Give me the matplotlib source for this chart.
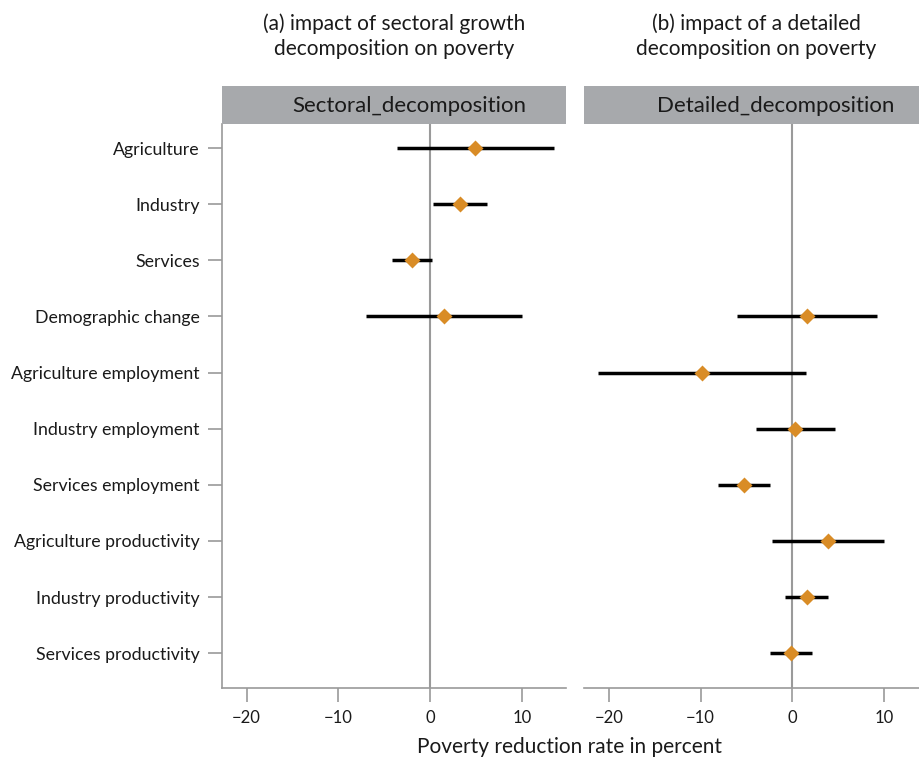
import numpy as np
import matplotlib.pyplot as plt

plt.rcParams['font.family'] = ['Lato', 'DejaVu Sans']

labels = ["Agriculture", "Industry", "Services", "Demographic change",
          "Agriculture employment", "Industry employment", "Services employment",
          "Agriculture productivity", "Industry productivity", "Services productivity"]

# panel (a): sectoral decomposition
sect_labels = ["Agriculture", "Industry", "Services", "Demographic change"]
sect_est = [4.9, 3.3, -2.0, 1.57]
sect_lo = [-3.6, 0.36, -4.2, -7.0]
sect_hi = [13.5, 6.2, 0.25, 10.05]

# panel (b): detailed decomposition
det_labels = ["Demographic change", "Agriculture employment", "Industry employment",
              "Services employment", "Agriculture productivity", "Industry productivity",
              "Services productivity"]
det_est = [1.63, -9.85, 0.3, -5.3, 3.88, 1.56, -0.1]
det_lo = [-5.98, -21.15, -3.95, -8.15, -2.17, -0.76, -2.39]
det_hi = [9.28, 1.46, 4.64, -2.42, 10.04, 3.88, 2.17]

titles = ["(a) impact of sectoral growth\ndecomposition on poverty",
          "(b) impact of a detailed\ndecomposition on poverty"]
strips = ["Sectoral_decomposition", "Detailed_decomposition"]

orange = '#D98C26'
axgray = '#9A9A9A'
stripgray = '#A7A9AC'
txt = '#1a1a1a'

fig = plt.figure(figsize=(9.2, 7.58), dpi=100)

panels = [
    (222 / 920, 344 / 920, (-22.69, 14.82), sect_labels, sect_est, sect_lo, sect_hi),
    (584 / 920, 336 / 920, (-22.71, 13.92), det_labels, det_est, det_lo, det_hi),
]
bottom = 1 - 688 / 758
height = (688 - 124) / 758
strip_h = (124 - 86) / 758
title_x = [394 / 920, 756 / 920]
strip_x = [0.545, 0.57]

for i, (x0, w, xlim, labs, est, lo, hi) in enumerate(panels):
    ax = fig.add_axes([x0, bottom, w, height])
    y = [labels.index(l) for l in labs]
    ax.axvline(0, color=axgray, lw=1.5, zorder=1)
    ax.hlines(y, lo, hi, color='black', lw=2.5, zorder=2)
    ax.plot(est, y, 'D', color=orange, ms=8.5, mec='none', zorder=3)
    ax.set_xlim(*xlim)
    ax.set_ylim(9.62, -0.43)
    ax.set_xticks([-20, -10, 0, 10])
    ax.set_yticks(range(len(labels)))
    for s in ['top', 'right']:
        ax.spines[s].set_visible(False)
    ax.spines['bottom'].set_color(axgray)
    ax.spines['bottom'].set_linewidth(1.2)
    ax.tick_params(axis='x', length=10, width=1.2, color=axgray, labelsize=12,
                   labelcolor=txt, pad=6)
    if i == 0:
        ax.set_yticklabels(labels)
        ax.spines['left'].set_color(axgray)
        ax.spines['left'].set_linewidth(1.2)
        ax.tick_params(axis='y', length=10, width=1.2, color=axgray, labelsize=12.8,
                       labelcolor=txt, pad=6)
    else:
        ax.spines['left'].set_visible(False)
        ax.tick_params(axis='y', left=False, labelleft=False)

    # facet strip
    sax = fig.add_axes([x0, bottom + height, w, strip_h])
    sax.set_facecolor(stripgray)
    sax.set_xticks([])
    sax.set_yticks([])
    for s in sax.spines.values():
        s.set_visible(False)
    sax.text(strip_x[i], 0.48, strips[i], ha='center', va='center', fontsize=16,
             color=txt, transform=sax.transAxes)

    fig.text(title_x[i], 1 - 36 / 758, titles[i],
             ha='center', va='center', fontsize=15, color=txt, linespacing=1.3)

fig.text(570 / 920, 1 - 747 / 758, "Poverty reduction rate in percent",
         ha='center', va='center', fontsize=15, color=txt)

fig.savefig('out.png', dpi=100)
